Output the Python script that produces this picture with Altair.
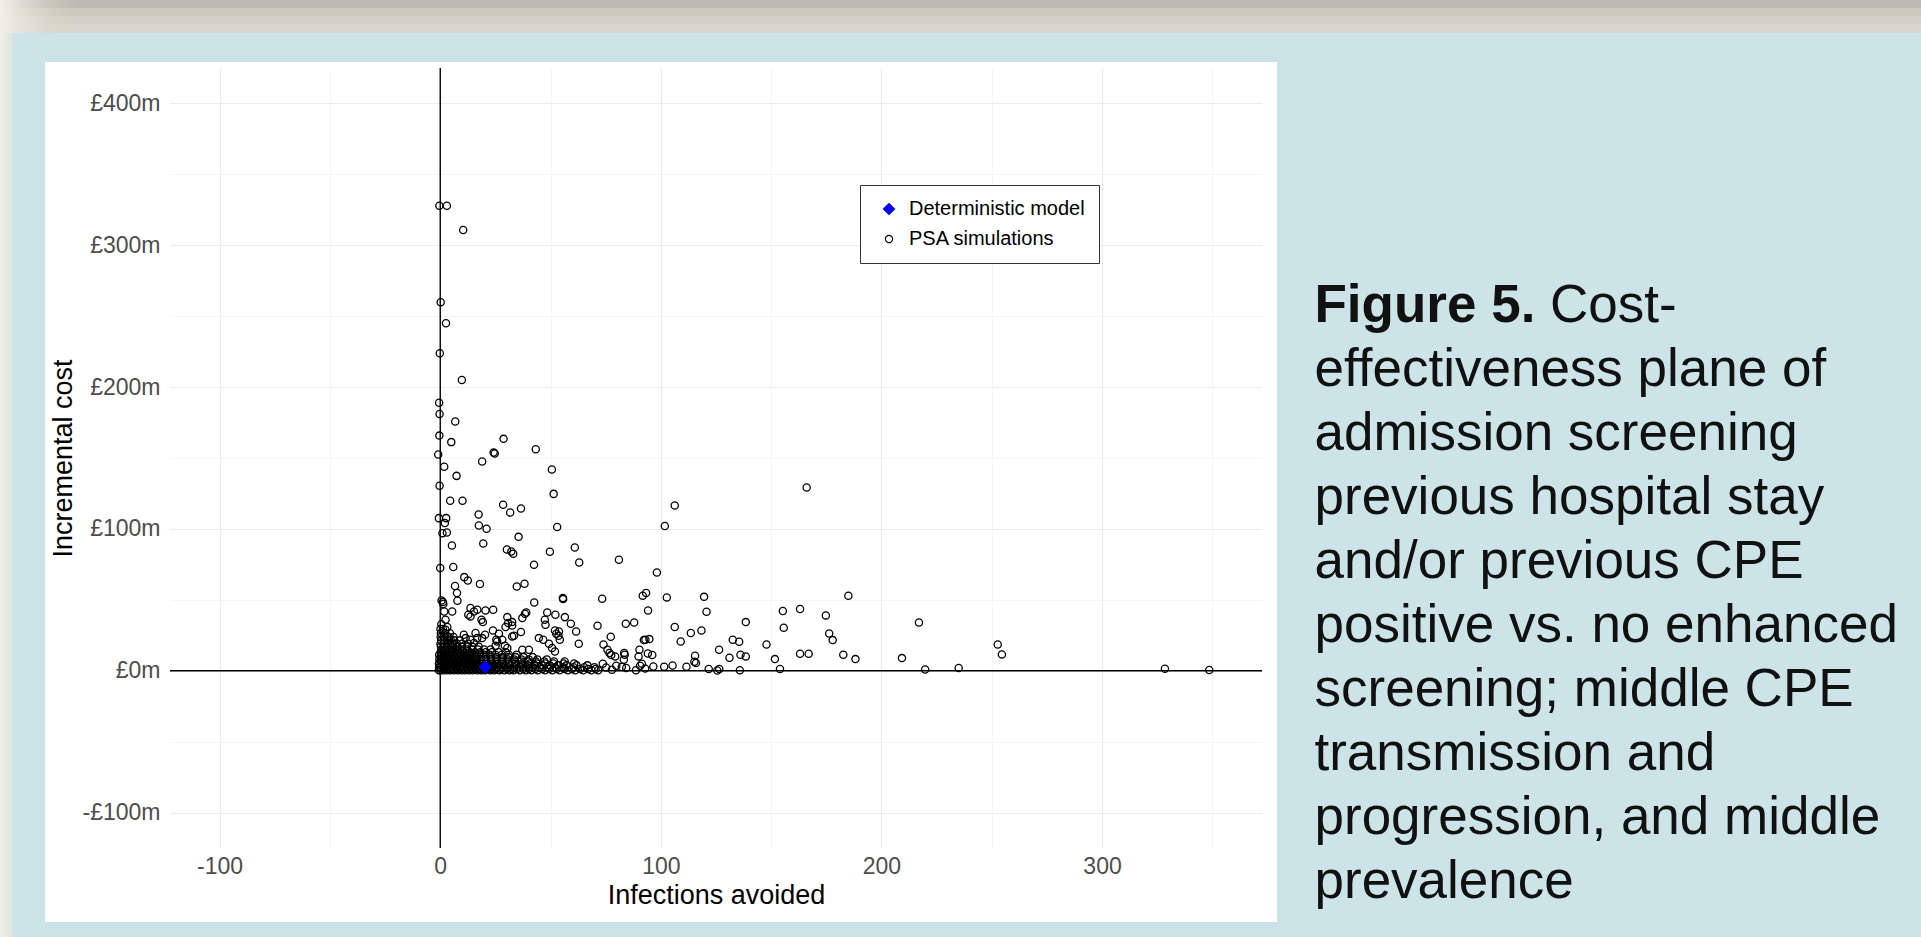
import altair as alt
import pandas as pd

# ------------------------------------------------------------------ data
SERIES = ["Deterministic model", "PSA simulations"]

DET_X = [20.4]
DET_Y = [2.6]

# scattered PSA simulations (infections avoided, cost in £m)
PSA_SPARSE_X = [
    -0.4, 3.0, 10.4, 0.2, 2.6, -0.2, 9.8, -0.5, -0.3, 6.8, -0.4, 5.0, 28.7, 24.2, 24.7, 43.3,
    -0.9, 1.8, 19.0, 7.4, 50.6, -0.3, 51.4, 4.5, 10.1, 166.1, 28.5, 31.7, 36.6, 17.4, -0.6, 2.7,
    2.1, 1.0, 3.0, 17.5, 21.0, 53.0, 101.8, 106.3, 5.3, 19.5, 35.5, 30.2, 32.2, 33.1, 49.7, 61.0,
    63.0, 42.5, 81.0, 98.2, 0.0, 5.9, 10.9, 12.5, 18.0, 6.7, 7.6, 34.7, 38.2, 185.0, 91.8, 93.3,
    55.6, 73.4, 102.7, 119.6,
    163.1, 174.8, 176.3, 177.9, 217.0, 182.7, 188.2, 163.1, 167.0, 209.3, 219.8, 235.0, 252.7,
    254.6, 328.5, 348.6,
    94.2, 120.7, 155.3, 138.5, 84.1, 87.9, 106.3, 155.7, 113.6, 118.4, 77.3, 92.3, 93.0, 94.8,
    109.0, 132.6, 135.5, 147.9, 74.0, 75.8, 76.7, 77.5, 79.3, 83.4, 83.6, 83.2, 90.3, 89.9, 91.4,
    94.1, 96.1, 126.4, 131.1, 136.1, 138.5, 151.7, 115.5, 115.2, 115.9, 154.0,
    73.7, 75.2, 77.8, 79.8, 82.3, 84.3, 88.7, 90.6, 92.9, 96.6, 101.5, 105.3, 111.6, 121.7, 125.6,
    126.5, 135.8,
    0.6, 1.2, 1.4, 7.8, 42.6, 55.7, 1.8, 2.4, 3.2, 5.4, 13.7, 15.3, 16.8, 20.5, 24.0, 12.7, 13.7,
    18.7, 19.3, 30.4, 32.6, 32.6, 37.2, 38.4, 39.0, 48.5, 52.2, 56.5, 59.2, 71.3, 29.6, 30.8, 23.9,
    26.6, 28.1, 32.6, 33.4, 36.6, 47.4, 47.7, 52.0, 53.8, 52.6, 53.6, 54.2, 44.7, 46.7, 49.3, 50.7,
    52.0, 62.8, 61.6, 40.2, 37.2, 25.4, 25.8, 25.1, 29.3, 30.4, 16.0, 16.8, 19.0, 20.3, 10.7, 11.5,
    13.7, 15.3, 2.4, 3.2, 4.7, 5.8, 7.7,
]
PSA_SPARSE_Y = [
    327.9, 327.9, 310.8, 259.8, 245.0, 223.9, 205.0, 189.0, 181.0, 175.7, 165.8, 161.2, 163.5, 153.8, 153.2, 156.2,
    152.5, 143.8, 147.5, 137.4, 141.9, 130.4, 124.7, 119.8, 119.8, 129.2, 117.0, 111.6, 114.4, 110.2, 107.6, 107.6,
    104.1, 97.0, 97.5, 102.4, 100.1, 101.3, 102.0, 116.5, 88.3, 89.7, 94.4, 85.5, 84.1, 82.5, 83.9, 86.9,
    76.3, 74.7, 78.2, 69.3, 72.4, 73.1, 66.0, 63.6, 61.1, 59.7, 54.8, 59.4, 61.3, 52.9, 52.9, 54.8,
    51.2, 50.7, 51.7, 52.1,
    43.5, 39.0, 26.3, 21.6, 34.0, 11.3, 8.2, 12.0, 12.0, 8.9, 0.9, 1.9, 18.5,
    11.5, 1.4, 0.5,
    42.5, 41.6, 42.1, 34.3, 33.1, 34.0, 30.8, 30.3, 26.6, 28.4, 24.0, 21.6, 21.9, 22.3,
    20.6, 21.8, 20.4, 18.5, 18.5, 14.8, 12.5, 11.1, 10.1, 12.5, 11.3, 7.8, 14.8, 10.1, 4.9,
    12.2, 11.1, 14.8, 9.2, 11.3, 10.1, 8.2, 10.6, 6.3, 5.4, 1.2,
    4.9, 2.3, 0.7, 3.5, 2.6, 1.9, 0.3, 3.5, 1.6, 3.0, 2.8, 3.7, 2.8, 1.2, 0.2,
    1.2, 0.3,
    49.5, 48.4, 47.0, 49.3, 48.1, 50.5, 41.8, 35.9, 30.8, 41.8, 44.2, 41.8, 43.0, 42.5, 43.0, 39.5, 38.3,
    35.9, 34.3, 37.8, 34.3, 31.9, 37.1, 40.2, 41.1, 41.1, 39.5, 37.8, 33.1, 31.7, 30.8, 33.6, 28.4,
    26.1, 21.8, 24.2, 24.7, 27.3, 35.9, 32.4, 28.4, 27.7, 26.1, 24.7, 21.8, 23.0, 21.8, 19.0, 16.0,
    13.6, 19.0, 27.7, 14.8, 14.8, 21.8, 20.6, 17.6, 17.6, 16.0, 26.6, 23.0, 23.0, 25.4, 25.4, 23.0,
    21.8, 19.5, 28.9, 24.2, 21.8, 18.3, 17.1,
]

# the dense blob near the origin, read row by row (cost level in £m, infections avoided)
CLUSTER_LEVELS = [0.3, 1.3, 2.5, 3.8, 5.1, 6.5, 8.0, 9.6, 11.3, 13.1, 15.0, 17.0, 19.1, 21.4, 23.8, 26.5, 29.5, 32.8]
CLUSTER_ROWS = [
    [-0.6, 0.2, 1.5, 3.1, 4.6, 6.2, 8.0, 9.7, 11.3, 13.1, 14.8, 16.9, 18.6, 20.3, 22.7, 24.5, 26.8, 29.1,
     31.4, 33.2, 36.0, 38.7, 41.3, 44.2, 47.5, 50.8, 54.1, 57.9, 61.2, 64.8, 68.5, 71.6],
    [0.5, 2.2, 3.9, 5.5, 7.3, 8.9, 10.6, 12.4, 14.1, 15.9, 17.6, 19.4, 21.3, 23.1, 25.4, 27.6, 30.2, 32.5,
     34.9, 37.6, 40.2, 43.1, 46.3, 49.4, 52.8, 56.3, 59.7, 63.4, 67.1, 70.4],
    [-0.5, 0.1, 1.8, 3.4, 5.1, 6.8, 8.5, 10.1, 11.9, 13.6, 15.3, 17.2, 19.0, 21.8, 23.7, 25.9, 28.3, 30.7,
     33.6, 36.4, 39.1, 42.0, 45.3, 48.7, 52.1, 55.8, 60.4, 65.3, 69.9],
    [0.4, 2.0, 3.7, 5.3, 7.1, 8.8, 10.4, 12.2, 14.0, 15.8, 17.5, 19.7, 22.1, 24.3, 26.6, 29.0, 31.5, 34.1,
     36.9, 39.8, 43.0, 46.1, 49.6, 53.4, 57.2, 61.8, 66.7],
    [-0.6, 0.2, 1.7, 3.3, 4.9, 6.6, 8.3, 10.0, 11.7, 13.5, 15.2, 17.0, 19.2, 21.5, 23.8, 26.1, 28.7, 31.2,
     34.0, 37.1, 40.5, 43.8, 47.6, 51.3, 55.9, 60.7],
    [0.5, 2.1, 3.8, 5.6, 7.4, 9.2, 11.0, 12.9, 14.7, 16.6, 18.8, 21.0, 23.3, 25.7, 28.2, 30.9, 33.8, 36.6,
     39.9, 43.4, 47.2, 51.6, 56.4],
    [-0.4, 0.3, 1.9, 3.6, 5.4, 7.2, 9.0, 10.9, 12.7, 14.6, 16.5, 18.5, 20.7, 23.0, 25.5, 28.0, 30.6, 33.5,
     36.7, 40.1, 44.0, 48.3],
    [0.1, 1.6, 3.2, 4.9, 6.7, 8.6, 10.5, 12.4, 14.4, 16.3, 18.4, 20.6, 23.1, 25.6, 28.3, 31.0, 34.2, 37.8, 41.9],
    [-0.5, 0.4, 2.0, 3.7, 5.5, 7.4, 9.3, 11.3, 13.3, 15.4, 17.6, 19.9, 22.4, 25.0, 27.9, 31.1, 34.6],
    [0.2, 1.8, 3.5, 5.3, 7.2, 9.2, 11.2, 13.4, 15.7, 18.1, 20.6, 23.4, 26.5, 29.8],
    [0.5, 2.2, 4.0, 5.9, 7.9, 10.0, 12.2, 14.6, 17.1, 19.9, 22.8],
    [0.3, 1.9, 3.7, 5.6, 7.6, 9.8, 12.1, 14.5, 17.4],
    [0.1, 1.7, 3.5, 5.4, 7.5, 9.9, 12.6],
    [0.4, 2.1, 4.1, 6.3, 8.8],
    [0.2, 1.9, 3.8, 6.0],
    [0.3, 2.3, 4.4],
    [0.1, 1.2],
    [0.5],
]

X_TICKS = [-100, -50, 0, 50, 100, 150, 200, 250, 300, 350]
Y_TICKS = [-100, -50, 0, 50, 100, 150, 200, 250, 300, 350, 400]
X_DOMAIN = [-122.5, 372.5]
Y_DOMAIN = [-125, 425]
ZERO = [0]

X_TITLE = "Infections avoided"
Y_TITLE = "Incremental cost"

CAPTION_BOLD = "Figure 5."
CAPTION_FIRST = "Cost-"
CAPTION_LINES = [
    "effectiveness plane of",
    "admission screening",
    "previous hospital stay",
    "and/or previous CPE",
    "positive vs. no enhanced",
    "screening; middle CPE",
    "transmission and",
    "progression, and middle",
    "prevalence",
]

# ------------------------------------------------------------------ frames
cl_x = [x for row in CLUSTER_ROWS for x in row]
cl_y = [lvl for lvl, row in zip(CLUSTER_LEVELS, CLUSTER_ROWS) for _ in row]

psa = pd.DataFrame({
    "infections": PSA_SPARSE_X + cl_x,
    "cost": PSA_SPARSE_Y + cl_y,
    "series": SERIES[1],
})
det = pd.DataFrame({"infections": DET_X, "cost": DET_Y, "series": SERIES[0]})
points = pd.concat([psa, det], ignore_index=True)

one = pd.DataFrame({"k": [0]})

# ------------------------------------------------------------------ layout (px)
LEFT, TOP, W, H = 170, 68, 1092, 780
FULL_W, FULL_H = 1921, 937
FONT = "Liberation Sans"

major = "datum.value % 100 === 0"
grid_color = {"condition": {"test": major, "value": "#ebebeb"}, "value": "#f3f3f3"}
grid_width = {"condition": {"test": major, "value": 1.1}, "value": 0.8}

x_axis = alt.Axis(
    values=X_TICKS,
    labelExpr="datum.value % 100 === 0 ? (datum.value < 0 ? '-' + abs(datum.value) : '' + datum.value) : ''",
    grid=True, gridColor=grid_color, gridWidth=grid_width,
    ticks=False, tickSize=0, domain=False,
    labelFont=FONT, labelFontSize=23, labelColor="#4d4d4d", labelPadding=7,
    labelFlush=False, labelOverlap=False,
    title=X_TITLE, titleFont=FONT, titleFontSize=27, titleFontWeight="normal",
    titleColor="#000000", titleY=55, titleBaseline="alphabetic",
)
y_axis = alt.Axis(
    values=Y_TICKS,
    labelExpr="datum.value % 100 === 0 ? (datum.value < 0 ? '-£' + abs(datum.value) + 'm' : '£' + datum.value + 'm') : ''",
    grid=True, gridColor=grid_color, gridWidth=grid_width,
    ticks=False, tickSize=0, domain=False,
    labelFont=FONT, labelFontSize=23, labelColor="#4d4d4d", labelPadding=10,
    labelFlush=False, labelOverlap=False,
    title=Y_TITLE, titleFont=FONT, titleFontSize=27, titleFontWeight="normal",
    titleColor="#000000", titleX=-99, titleBaseline="alphabetic",
)
x_scale = alt.Scale(domain=X_DOMAIN, nice=False, zero=False)
y_scale = alt.Scale(domain=Y_DOMAIN, nice=False, zero=False)


def X():
    return alt.X("infections:Q", scale=x_scale, axis=x_axis)


def Y():
    return alt.Y("cost:Q", scale=y_scale, axis=y_axis)


def deco(x1, x2, y1, y2, color):
    return alt.Chart(one).mark_rect(color=color, strokeWidth=0).encode(
        x=alt.value(x1 - LEFT), x2=alt.value(x2 - LEFT),
        y=alt.value(y1 - TOP), y2=alt.value(y2 - TOP),
    )


BLUE = "#cce4e8"
fade = alt.LinearGradient(
    gradient="linear", x1=0, x2=1, y1=0, y2=0,
    stops=[alt.GradientStop(color="#f3f0e6", offset=0),
           alt.GradientStop(color="rgba(214,211,199,0)", offset=1)],
)
side = alt.LinearGradient(
    gradient="linear", x1=0, x2=1, y1=0, y2=0,
    stops=[alt.GradientStop(color="#f1eee5", offset=0),
           alt.GradientStop(color="#dfe6e1", offset=1)],
)

background = [
    deco(0, FULL_W, 0, 8, "#bcb9ae"),
    deco(0, FULL_W, 8, 16, "#cac7bb"),
    deco(0, FULL_W, 16, 24, "#d3d1c5"),
    deco(0, FULL_W, 24, 33, "#d7d5c9"),
    deco(0, 80, 0, 33, fade),
    deco(0, FULL_W, 33, 62, BLUE),
    deco(0, 45, 62, FULL_H, BLUE),
    deco(1277, FULL_W, 62, FULL_H, BLUE),
    deco(45, 1277, 922, FULL_H, BLUE),
    deco(0, 12, 33, FULL_H, side),
]

vline = alt.Chart(pd.DataFrame({"infections": ZERO})).mark_rule(
    color="#000000", strokeWidth=1.4).encode(x=X())
hline = alt.Chart(pd.DataFrame({"cost": ZERO})).mark_rule(
    color="#000000", strokeWidth=1.4).encode(y=Y())

legend = alt.Legend(
    title=None, orient="none", legendX=690, legendY=117,
    padding=14, fillColor="#ffffff", strokeColor="#333333",
    labelFont=FONT, labelFontSize=20, labelColor="#000000", labelLimit=400,
    symbolOffset=5, labelOffset=10, rowPadding=10, symbolStrokeWidth=1.2,
)

pts = alt.Chart(points).mark_point(opacity=1, strokeWidth=1.3).encode(
    x=X(),
    y=Y(),
    shape=alt.Shape("series:N", scale=alt.Scale(domain=SERIES, range=["diamond", "circle"]), legend=legend),
    fill=alt.Fill("series:N", scale=alt.Scale(domain=SERIES, range=["#0000ff", "transparent"]), legend=legend),
    stroke=alt.Stroke("series:N", scale=alt.Scale(domain=SERIES, range=["#0000ff", "#000000"]), legend=legend),
    size=alt.Size("series:N", scale=alt.Scale(domain=SERIES, range=[121, 52]), legend=legend),
)

CAP_X = 1314.5
CAP_SIZE = 53
CAP_LH = 64
CAP_BASE = 322

cap_bold = alt.Chart(one).mark_text(
    font=FONT, fontSize=CAP_SIZE, fontWeight="bold", align="left", baseline="alphabetic", color="#111111",
).encode(x=alt.value(CAP_X - LEFT), y=alt.value(CAP_BASE - TOP), text=alt.value(CAPTION_BOLD))
cap_first = alt.Chart(one).mark_text(
    font=FONT, fontSize=CAP_SIZE, align="left", baseline="alphabetic", color="#111111",
).encode(x=alt.value(1550 - LEFT), y=alt.value(CAP_BASE - TOP), text=alt.value(CAPTION_FIRST))
cap_rest = alt.Chart(one).mark_text(
    font=FONT, fontSize=CAP_SIZE, align="left", baseline="alphabetic", color="#111111", lineHeight=CAP_LH,
).encode(x=alt.value(CAP_X - LEFT), y=alt.value(CAP_BASE + CAP_LH - TOP), text=alt.value(CAPTION_LINES))

chart = alt.layer(*background, vline, hline, pts, cap_bold, cap_first, cap_rest).properties(
    width=W, height=H,
    autosize=alt.AutoSizeParams(type="none"),
    padding={"left": LEFT, "top": TOP, "right": FULL_W - LEFT - W, "bottom": FULL_H - TOP - H},
    background="#ffffff",
).configure_view(stroke="transparent")

chart.save("out.html", embed_options={"renderer": "svg", "actions": False})
